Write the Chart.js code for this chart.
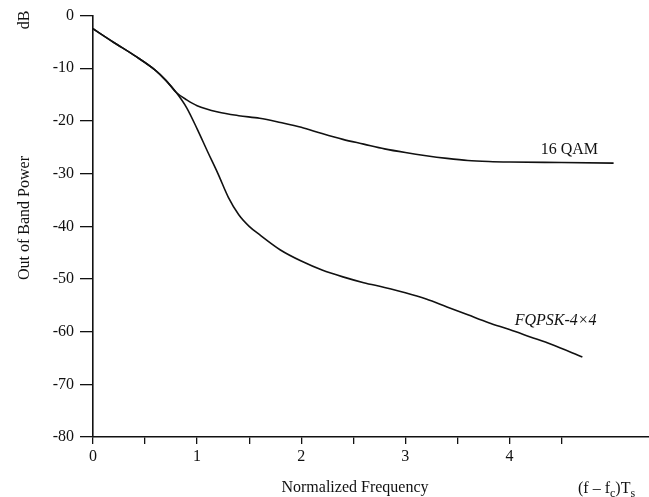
<!DOCTYPE html>
<html>
<head>
<meta charset="utf-8">
<script src="https://cdn.jsdelivr.net/npm/chart.js@4/dist/chart.umd.min.js"></script>
<style>
  html, body { margin: 0; padding: 0; background: #fff; }
  #wrap { width: 649px; height: 497px; }
</style>
</head>
<body>
<div id="wrap"><canvas id="psdChart" width="649" height="497"></canvas></div>
<script>
// Out of band power vs normalized frequency (f - fc)Ts
const qamFreq  = [0, 0.2, 0.4, 0.6, 0.7, 0.8, 0.9, 1.0, 1.2, 1.4, 1.6, 1.8, 2.0, 2.2, 2.4, 2.6, 2.8, 3.0, 3.2, 3.4, 3.6, 3.8, 4.0, 4.5, 5.0]
const qamPower = [-2.5, -5.1, -7.6, -10.4, -12.3, -14.6, -16.0, -17.1, -18.3, -19.0, -19.5, -20.3, -21.2, -22.4, -23.5, -24.4, -25.3, -26.0, -26.6, -27.1, -27.5, -27.7, -27.8, -27.9, -28.0]

const fqpskFreq  = [0, 0.2, 0.4, 0.6, 0.7, 0.8, 0.9, 1.0, 1.1, 1.2, 1.3, 1.4, 1.5, 1.6, 1.8, 2.0, 2.2, 2.4, 2.6, 2.8, 3.0, 3.2, 3.4, 3.6, 3.8, 4.0, 4.2, 4.4, 4.7]
const fqpskPower = [-2.5, -5.1, -7.6, -10.4, -12.3, -14.6, -17.5, -21.5, -25.8, -30.0, -34.5, -37.8, -40.0, -41.6, -44.5, -46.6, -48.3, -49.6, -50.7, -51.6, -52.6, -53.8, -55.3, -56.8, -58.3, -59.6, -61.0, -62.4, -64.8]

const xTickStep = 0.5
const xLastTick = 4.5
const yTickStep = 10

const serif = '"Liberation Serif", "Times New Roman", serif'
const ink = "#111"

function toPoints(xs, ys) {
    return xs.map((x, i) => ({ x: x, y: ys[i] }))
}

// curve names and axis titles, painted after the datasets
const textPlugin = {
    id: "plotText",
    afterDraw(chart) {
        const ctx = chart.ctx
        const xs = chart.scales.x
        const ys = chart.scales.y
        ctx.save()
        ctx.fillStyle = ink
        ctx.textBaseline = "middle"

        ctx.font = "16px " + serif
        ctx.textAlign = "left"
        ctx.fillText("16 QAM", xs.getPixelForValue(4.3), ys.getPixelForValue(-25.5))
        ctx.font = "italic 16px " + serif
        ctx.fillText("FQPSK-4\u00d74", xs.getPixelForValue(4.05), ys.getPixelForValue(-58))

        // rotated y titles
        ctx.font = "16px " + serif
        ctx.textAlign = "center"
        ctx.save()
        ctx.translate(25, 20)
        ctx.rotate(-Math.PI / 2)
        ctx.fillText("dB", 0, 0)
        ctx.restore()
        ctx.save()
        ctx.translate(25, 218)
        ctx.rotate(-Math.PI / 2)
        ctx.fillText("Out of Band Power", 0, 0)
        ctx.restore()

        ctx.fillText("Normalized Frequency", 355, 488)

        // (f - fc)Ts with subscripts
        ctx.textAlign = "left"
        ctx.textBaseline = "alphabetic"
        let px = 578
        const base = 493
        const parts = [["(f \u2013 f", 0], ["c", 1], [")T", 0], ["s", 1]]
        parts.forEach(p => {
            ctx.font = (p[1] ? "12px " : "16px ") + serif
            ctx.fillText(p[0], px, base + (p[1] ? 4 : 0))
            px += ctx.measureText(p[0]).width
        })
        ctx.restore()
    }
}

const ctx = document.getElementById("psdChart").getContext("2d")
const lineStyle = {
    borderColor: ink,
    borderWidth: 1.6,
    pointRadius: 0,
    fill: false,
    cubicInterpolationMode: "monotone"
}

new Chart(ctx, {
    type: "line",
    data: {
        datasets: [
            Object.assign({ label: "16 QAM", data: toPoints(qamFreq, qamPower) }, lineStyle),
            Object.assign({ label: "FQPSK-4x4", data: toPoints(fqpskFreq, fqpskPower) }, lineStyle)
        ]
    },
    options: {
        responsive: false,
        animation: false,
        layout: { padding: { top: 14, right: 0, left: 0, bottom: 0 } },
        plugins: {
            legend: { display: false },
            tooltip: { enabled: false }
        },
        scales: {
            x: {
                type: "linear",
                min: 0,
                max: 5.34,
                afterFit: scale => { scale.height = 60 },
                afterBuildTicks: scale => {
                    scale.ticks = scale.ticks.filter(t => t.value <= xLastTick + 1e-6)
                },
                border: { display: true, color: ink, width: 1.6 },
                grid: {
                    drawOnChartArea: false,
                    drawTicks: true,
                    tickLength: 7,
                    color: ink,
                    lineWidth: 1.3
                },
                ticks: {
                    stepSize: xTickStep,
                    padding: 3,
                    color: ink,
                    maxRotation: 0,
                    autoSkip: false,
                    font: { family: serif, size: 16 },
                    callback: v => Number.isInteger(v) ? String(v) : ""
                }
            },
            y: {
                min: -80,
                max: 0,
                afterFit: scale => { scale.width = 93 },
                border: { display: true, color: ink, width: 1.6 },
                grid: {
                    drawOnChartArea: false,
                    drawTicks: true,
                    tickLength: 13,
                    color: ink,
                    lineWidth: 1.3
                },
                ticks: {
                    stepSize: yTickStep,
                    padding: 6,
                    color: ink,
                    font: { family: serif, size: 16 }
                }
            }
        }
    },
    plugins: [textPlugin]
})
</script>
</body>
</html>
